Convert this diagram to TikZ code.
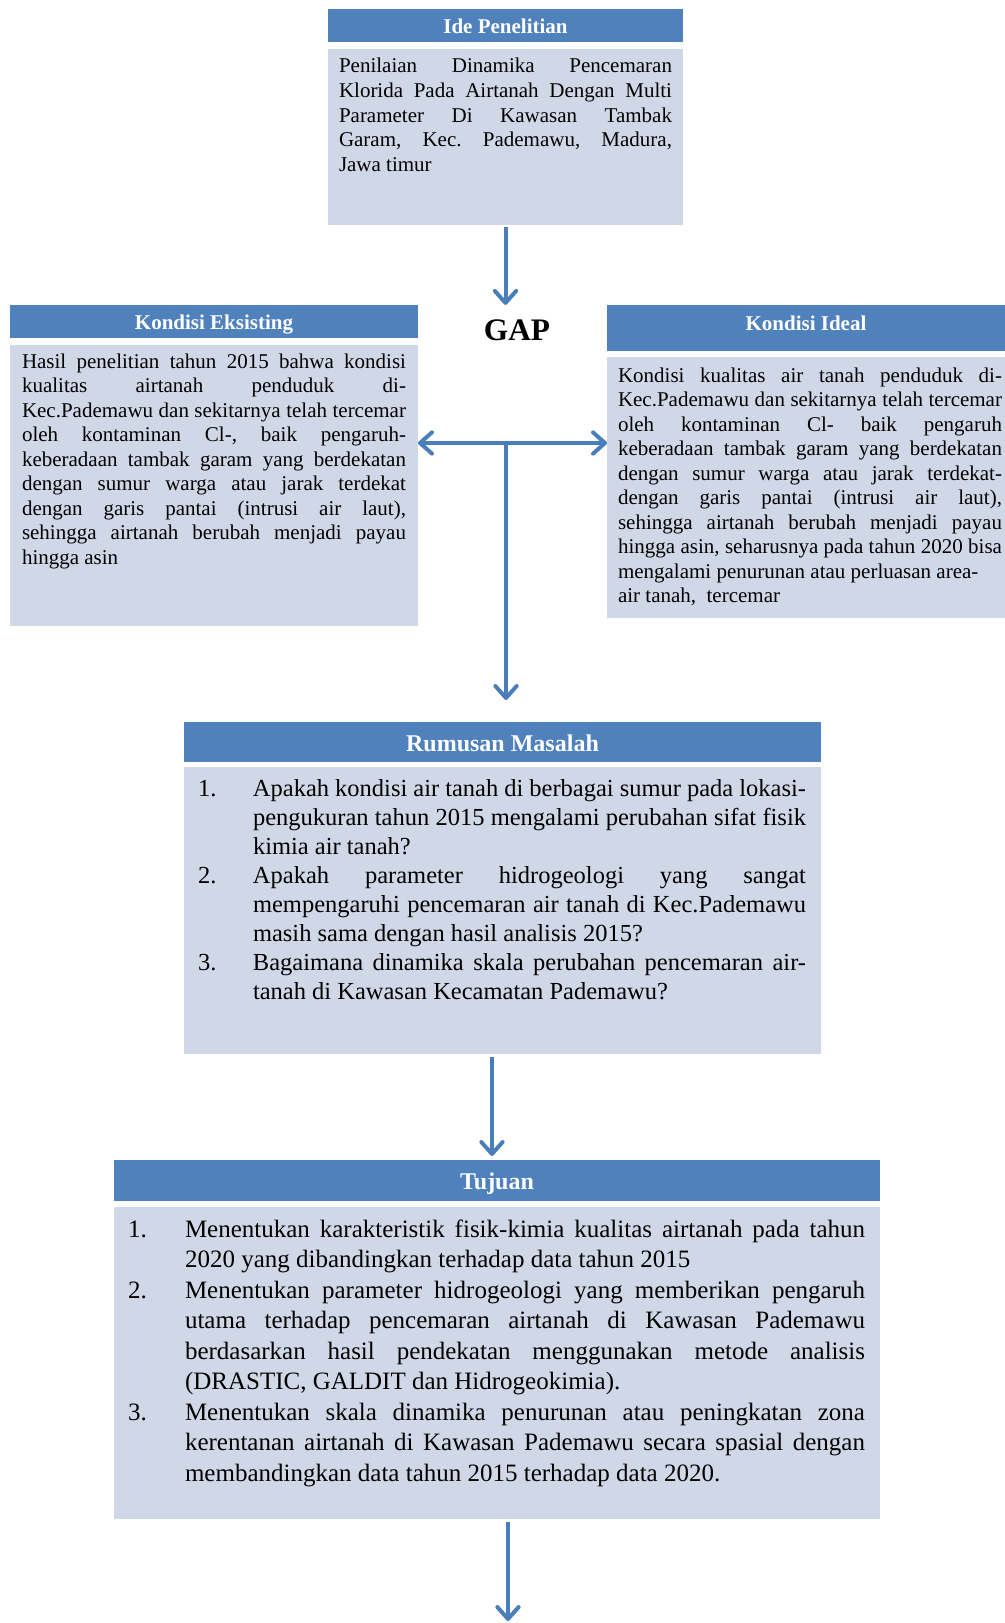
\documentclass[tikz,border=0pt]{standalone}
\usepackage{fontspec}
\setmainfont{Liberation Serif}
\usetikzlibrary{arrows.meta}

\definecolor{hdrblue}{HTML}{4F81BD}
\definecolor{bodyblue}{HTML}{D0D8E8}
\definecolor{arrowblue}{HTML}{4A7EBB}

% type sizes (1px = 0.75pt)
\newcommand\smallsz{\fontsize{15.75pt}{18.4pt}\selectfont}
\newcommand\rmsz{\fontsize{18.375pt}{21.75pt}\selectfont}
\newcommand\tjsz{\fontsize{18.75pt}{22.9pt}\selectfont}
\newcommand\parsetup{\setlength\parindent{0pt}\setlength\parskip{0pt}\frenchspacing
  \hyphenpenalty=10000 \exhyphenpenalty=10000 \tolerance=10000 \hbadness=10000}

% rectangle node from two corners given in px: style, name, x1, y1, x2, y2, text
\newcommand\panel[7]{%
  \node[#1, minimum width={(#5-#3)*0.75pt}, minimum height={(#6-#4)*0.75pt}]
    (#2) at ({(#3+#5)/2},{(#4+#6)/2}) {#7};}

\tikzset{
  hdr/.style={fill=hdrblue, text=white, inner sep=0pt, outer sep=0pt,
    font=\bfseries\fontsize{15.75pt}{18pt}\selectfont, text height=11.5pt, text depth=0pt},
  bighdr/.style={hdr, font=\bfseries\fontsize{18pt}{21pt}\selectfont, text height=13.8pt},
  panelbody/.style={fill=bodyblue, inner sep=0pt, outer sep=0pt},
  bodytext/.style={anchor=base west, inner sep=0pt, outer sep=0pt, text=black},
  arr/.style={draw=arrowblue, line width=3pt, ->},
  >={Straight Barb[length=9pt,width=16pt,round]}
}

\begin{document}
\begin{tikzpicture}[x=0.75pt, y=-0.75pt]
\useasboundingbox (0,0) rectangle (1005,1623);

% ---- Ide Penelitian
\panel{hdr}{ideh}{328}{9}{683}{42}{Ide Penelitian}
\panel{panelbody}{ideb}{328}{49}{683}{225}{}
\node[bodytext] (idet) at (339,73) {\parbox[t]{249.75pt}{\smallsz\parsetup
Penilaian Dinamika Pencemaran\linebreak
Klorida Pada Airtanah Dengan Multi\linebreak
Parameter Di Kawasan Tambak\linebreak
Garam, Kec. Pademawu, Madura,\linebreak
Jawa timur}};

% ---- GAP
\node[anchor=base, inner sep=0pt, outer sep=9pt, text height=17.3pt,
  font=\bfseries\fontsize{23.5pt}{26pt}\selectfont] (gap) at (517,340) {GAP};

% ---- Kondisi Eksisting
\panel{hdr}{keh}{10}{305}{418}{338}{Kondisi Eksisting}
\panel{panelbody}{keb}{10}{345}{418}{626}{}
\node[bodytext] (ket) at (22,368) {\parbox[t]{288pt}{\smallsz\parsetup
Hasil penelitian tahun 2015 bahwa kondisi\linebreak
kualitas airtanah penduduk di-\linebreak
Kec.Pademawu dan sekitarnya telah tercemar\linebreak
oleh kontaminan Cl-, baik pengaruh-\linebreak
keberadaan tambak garam yang berdekatan\linebreak
dengan sumur warga atau jarak terdekat\linebreak
dengan garis pantai (intrusi air laut),\linebreak
sehingga airtanah berubah menjadi payau\linebreak
hingga asin}};

% ---- Kondisi Ideal
\panel{hdr, text height=11.5pt, text depth=8.5pt}{kih}{607}{305}{1005}{351}{Kondisi Ideal}
\panel{panelbody}{kib}{607}{357}{1005}{618}{}
\node[bodytext] (kit) at (618,382) {\parbox[t]{288pt}{\smallsz\parsetup
Kondisi kualitas air tanah penduduk di-\linebreak
Kec.Pademawu dan sekitarnya telah tercemar\linebreak
oleh kontaminan Cl- baik pengaruh\linebreak
keberadaan tambak garam yang berdekatan\linebreak
dengan sumur warga atau jarak terdekat-\linebreak
dengan garis pantai (intrusi air laut),\linebreak
sehingga airtanah berubah menjadi payau\linebreak
hingga asin, seharusnya pada tahun 2020 bisa\linebreak
mengalami penurunan atau perluasan area-\newline
air tanah,\ \ tercemar}};

% ---- Rumusan Masalah
\panel{bighdr}{rmh}{184}{722}{821}{762}{Rumusan Masalah}
\panel{panelbody}{rmb}{184}{767}{821}{1054}{}
\node[bodytext] (rmt) at (198,796) {\parbox[t]{456pt}{\rmsz\parsetup
\hangindent=41.25pt\hangafter=1\noindent\makebox[41.25pt][l]{1.}%
Apakah kondisi air tanah di berbagai sumur pada lokasi-\linebreak
pengukuran tahun 2015 mengalami perubahan sifat fisik\linebreak
kimia air tanah?\par
\hangindent=41.25pt\hangafter=1\noindent\makebox[41.25pt][l]{2.}%
Apakah parameter hidrogeologi yang sangat\linebreak
mempengaruhi pencemaran air tanah di Kec.Pademawu\linebreak
masih sama dengan hasil analisis 2015?\par
\hangindent=41.25pt\hangafter=1\noindent\makebox[41.25pt][l]{3.}%
Bagaimana dinamika skala perubahan pencemaran air-\linebreak
tanah di Kawasan Kecamatan Pademawu?}};

% ---- Tujuan
\panel{bighdr, text height=14.2pt}{tjh}{114}{1160}{880}{1201}{Tujuan}
\panel{panelbody}{tjb}{114}{1207}{880}{1519}{}
\node[bodytext] (tjt) at (128,1237) {\parbox[t]{552.75pt}{\tjsz\parsetup
\hangindent=42.75pt\hangafter=1\noindent\makebox[42.75pt][l]{1.}%
Menentukan karakteristik fisik-kimia kualitas airtanah pada tahun\linebreak
2020 yang dibandingkan terhadap data tahun 2015\par
\hangindent=42.75pt\hangafter=1\noindent\makebox[42.75pt][l]{2.}%
Menentukan parameter hidrogeologi yang memberikan pengaruh\linebreak
utama terhadap pencemaran airtanah di Kawasan Pademawu\linebreak
berdasarkan hasil pendekatan menggunakan metode analisis\linebreak
(DRASTIC, GALDIT dan Hidrogeokimia).\par
\hangindent=42.75pt\hangafter=1\noindent\makebox[42.75pt][l]{3.}%
Menentukan skala dinamika penurunan atau peningkatan zona\linebreak
kerentanan airtanah di Kawasan Pademawu secara spasial dengan\linebreak
membandingkan data tahun 2015 terhadap data 2020.}};

% ---- connectors
\coordinate (tee) at (506,443);
\coordinate (rmtop) at (506,700);
\coordinate (bottomend) at (508,1621);

\draw[arr, shorten <=1.5pt] (ideb.south) -- (ideb.south |- gap.north);
\draw[arr, <->] (keb.east |- tee) -- (kib.west |- tee);
\draw[arr] (tee) -- (rmtop);
\draw[arr, shorten <=2pt, shorten >=3pt]
  ([xshift=-7.9pt]rmb.south) -- ([xshift=-7.9pt]rmb.south |- tjh.north);
\draw[arr, shorten <=2pt] ([xshift=8.25pt]tjb.south) -- (bottomend);
\end{tikzpicture}
\end{document}
